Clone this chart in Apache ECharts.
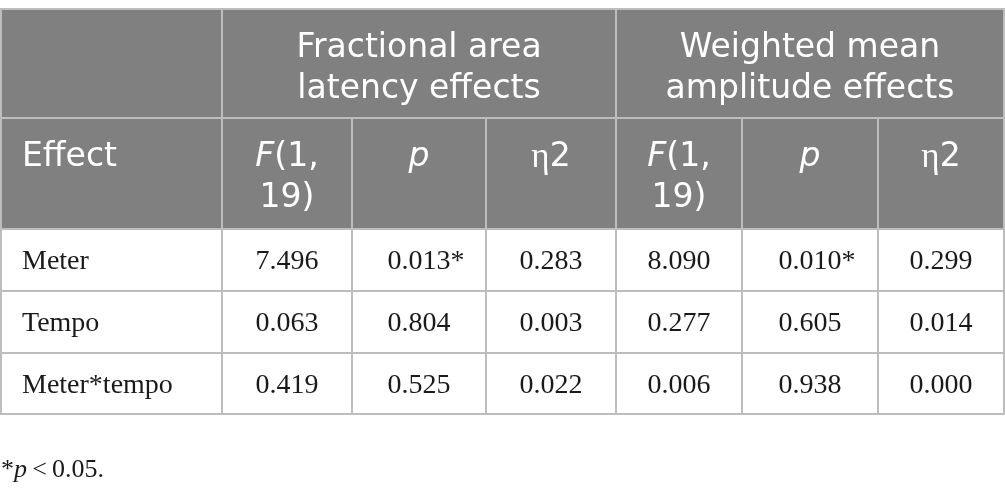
<!DOCTYPE html>
<html>
<head>
<meta charset="utf-8">
<script src="https://cdn.jsdelivr.net/npm/echarts@6/dist/echarts.min.js"></script>
<style>
html,body{margin:0;padding:0;background:#fff;}
#chart{width:1005px;height:498px;}
</style>
</head>
<body>
<div id="chart"></div>
<script>
// ---- data ----
const groupHeaders = ['Fractional area\nlatency effects', 'Weighted mean\namplitude effects'];
const columnHeaders = ['Effect', 'F(1,\n19)', 'p', 'η2', 'F(1,\n19)', 'p', 'η2'];
const effects = ['Meter', 'Tempo', 'Meter*tempo'];
const falF = ['7.496', '0.063', '0.419'];
const falP = ['0.013*', '0.804', '0.525'];
const falEta = ['0.283', '0.003', '0.022'];
const wmaF = ['8.090', '0.277', '0.006'];
const wmaP = ['0.010*', '0.605', '0.938'];
const wmaEta = ['0.299', '0.014', '0.000'];

// ---- layout (axis units) ----
const XE = [1, 222, 352, 486, 616, 742, 878, 1004];
const YE = [9, 118, 229, 291, 353, 414];
const HEAD_BG = '#808080';
const BORDER = '#bdbdbd';
const SANS = '"DejaVu Sans", "Open Sans", sans-serif';
const SERIF = '"Liberation Serif", "DejaVu Serif", serif';
const HFS = 33;   // header font size
const HLH = 41;   // header line height
const DFS = 28;   // data font size

// build cells
const cells = [];
function addCell(c0, c1, r0, r1, text, kind) { cells.push({c0, c1, r0, r1, text, kind}); }
addCell(0, 1, 0, 1, '', 'blank');
addCell(1, 4, 0, 1, groupHeaders[0], 'group');
addCell(4, 7, 0, 1, groupHeaders[1], 'group');
columnHeaders.forEach((t, i) => addCell(i, i + 1, 1, 2, t, i === 0 ? 'colLeft' : 'col'));
const dataCols = [effects, falF, falP, falEta, wmaF, wmaP, wmaEta];
for (let r = 0; r < effects.length; r++) {
  dataCols.forEach((col, c) => addCell(c, c + 1, r + 2, r + 3, col[r], c === 0 ? 'rowLabel' : 'num'));
}

const measureCtx = document.createElement('canvas').getContext('2d');

function headerRich(text) {
  return text.replace(/^F/, '{i|F}').replace(/^p$/, '{i|p}').replace(/η/, '{e|η}');
}

const chart = echarts.init(document.getElementById('chart'), null, {renderer: 'canvas'});

const headRich = {
  i: {fontStyle: 'italic', fontFamily: SANS, fontSize: HFS, lineHeight: HLH, fill: '#fff', color: '#fff'},
  e: {fontFamily: SERIF, fontSize: HFS + 2, lineHeight: HLH, fill: '#fff', color: '#fff'}
};

chart.setOption({
  animation: false,
  grid: {left: 0, right: 0, top: 0, bottom: 0},
  xAxis: {type: 'value', min: 0, max: 1005, show: false},
  yAxis: {type: 'value', min: 0, max: 498, inverse: true, show: false},
  series: [
    {
      type: 'custom',
      coordinateSystem: 'cartesian2d',
      encode: {x: [0, 2], y: [1, 3]},
      data: cells.map(c => [XE[c.c0], YE[c.r0], XE[c.c1], YE[c.r1]]),
      renderItem: function (params, api) {
        const cell = cells[params.dataIndex];
        const p0 = api.coord([api.value(0), api.value(1)]);
        const p1 = api.coord([api.value(2), api.value(3)]);
        const isHead = cell.r0 < 2;
        const children = [{
          type: 'rect',
          shape: {x: p0[0], y: p0[1], width: p1[0] - p0[0], height: p1[1] - p0[1]},
          style: {fill: isHead ? HEAD_BG : '#ffffff', stroke: BORDER, lineWidth: 2}
        }];
        const cx = (p0[0] + p1[0]) / 2;
        const cy = (p0[1] + p1[1]) / 2;
        if (cell.kind === 'group') {
          children.push({
            type: 'text',
            style: {text: cell.text, x: cx, y: p0[1] + 19, align: 'center', verticalAlign: 'top',
              fontFamily: SANS, fontSize: HFS, lineHeight: HLH, fill: '#ffffff'}
          });
        } else if (cell.kind === 'col' || cell.kind === 'colLeft') {
          const left = cell.kind === 'colLeft';
          children.push({
            type: 'text',
            style: {text: headerRich(cell.text), x: left ? p0[0] + 21 : cx, y: p0[1] + 19,
              align: left ? 'left' : 'center', verticalAlign: 'top',
              fontFamily: SANS, fontSize: HFS, lineHeight: HLH, fill: '#ffffff',
              rich: headRich}
          });
        } else if (cell.kind === 'rowLabel') {
          children.push({
            type: 'text',
            style: {text: cell.text, x: p0[0] + 21, y: cy + 2, align: 'left', verticalAlign: 'middle',
              fontFamily: SERIF, fontSize: DFS, fill: '#1a1a1a'}
          });
        } else if (cell.kind === 'num') {
          const star = cell.text.endsWith('*');
          const num = star ? cell.text.slice(0, -1) : cell.text;
          children.push({
            type: 'text',
            style: {text: num, x: cx, y: cy + 2, align: 'center', verticalAlign: 'middle',
              fontFamily: SERIF, fontSize: DFS, fill: '#1a1a1a'}
          });
          if (star) {
            measureCtx.font = DFS + 'px ' + SERIF;
            const w = measureCtx.measureText(num).width;
            children.push({
              type: 'text',
              style: {text: '*', x: cx + w / 2, y: cy + 2, align: 'left', verticalAlign: 'middle',
                fontFamily: SERIF, fontSize: DFS, fill: '#1a1a1a'}
            });
          }
        }
        return {type: 'group', children: children};
      }
    },
    {
      type: 'custom',
      coordinateSystem: 'cartesian2d',
      encode: {x: 0, y: 1},
      data: [[0, 470]],
      renderItem: function (params, api) {
        const p = api.coord([api.value(0), api.value(1)]);
        return {
          type: 'text',
          style: {
            text: '{n|*}{i|p}{n|\u2009<\u20090.05.}', x: p[0] + 1, y: p[1], align: 'left', verticalAlign: 'middle',
            rich: {
              n: {fontFamily: SERIF, fontSize: 26, fill: '#1a1a1a', color: '#1a1a1a'},
              i: {fontFamily: SERIF, fontStyle: 'italic', fontSize: 26, fill: '#1a1a1a', color: '#1a1a1a'}
            }
          }
        };
      }
    }
  ]
});
</script>
</body>
</html>
